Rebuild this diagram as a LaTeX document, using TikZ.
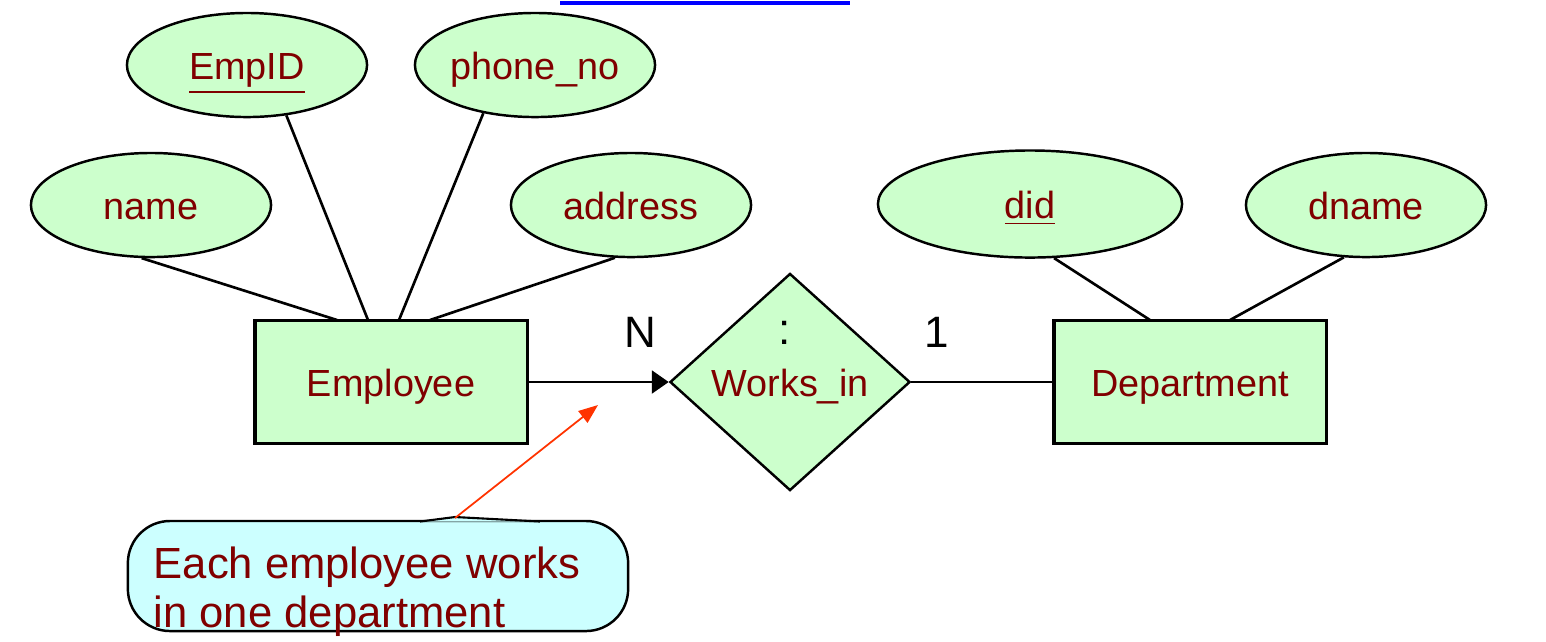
\documentclass[tikz,border=0pt]{standalone}
\usepackage{fontspec}
\setmainfont{Liberation Sans}
\usepackage{tikz}
\definecolor{attrgreen}{HTML}{CCFFCC}
\definecolor{darkred}{HTML}{800000}
\definecolor{notecyan}{HTML}{CCFFFF}
\definecolor{notered}{HTML}{FF3300}
\definecolor{linkblue}{HTML}{0000FF}
\usetikzlibrary{arrows.meta,shapes.geometric}
\tikzstyle{attrib}=[ellipse, draw=black, fill=attrgreen, line width=0.7pt, minimum width=2.4cm, minimum height=1.04cm, inner sep=0pt, text=darkred, font=\fontsize{10.75}{13}\selectfont, text height=8pt, text depth=0pt]
\tikzstyle{entity}=[rectangle, draw=black, fill=attrgreen, line width=0.9pt, minimum width=2.72cm, minimum height=1.23cm, inner sep=0pt, text=darkred, font=\fontsize{10.75}{13}\selectfont, text height=8pt, text depth=0pt]
\tikzstyle{relation}=[diamond, draw=black, fill=attrgreen, line width=0.7pt, minimum width=2.4cm, minimum height=2.17cm, inner sep=0pt, text=darkred, font=\fontsize{10.75}{13}\selectfont, text height=8pt, text depth=0pt]
\tikzstyle{cardlabel}=[inner sep=0pt, text=black, font=\fontsize{12.5}{14}\selectfont]
\tikzstyle{attrline}=[draw=black, line width=0.75pt]

\begin{document}
\begin{tikzpicture}[x=0.01cm, y=-0.01cm]
					\useasboundingbox (0,0) rectangle (1546,641);
					\path[draw=linkblue, line width=1.1pt] (560,3) -- (850,3);
					% entities and relationship
					\node[entity] (emp) at (391,382) {Employee};
					\node[entity] (dept) at (1190,382) {Department};
					\node[relation] (works) at (790,382) {Works\_in};
					\node[cardlabel] (colon) at (785,333) {:};
					% attributes
					\node[attrib] (empid) at (247,65) {\underline{EmpID}};
					\node[attrib] (phone) at (535,65) {phone\_no};
					\node[attrib] (name) at (151,205) {name};
					\node[attrib] (addr) at (631,205) {address};
					\node[attrib, minimum width=3.04cm, minimum height=1.07cm] (did) at (1030,204) {\underline{did}};
					\node[attrib] (dname) at (1366,205) {dname};
					\path[attrline] (name.260) -- (337,320);
					\path[attrline] (empid.-52) -- (368,320);
					\path[attrline] (phone.-137) -- (399,320);
					\path[attrline] (addr.-107) -- (430,320);
					\path[attrline] (did.-66) -- (1150,320);
					\path[attrline] (dname.-113) -- (1230,320);
					% links
					\path[draw=black, line width=0.75pt, -{Triangle[length=4.8pt,width=6.5pt]}] (emp) -- (works);
					\path[draw=black, line width=0.75pt] (works) -- (dept);
					\node[cardlabel] (many) at (640,332) {N};
					\node[cardlabel] (one) at (937,332) {1};
					% note
					\node[rectangle, rounded corners=12pt, draw=black, fill=notecyan, line width=0.7pt, minimum width=5cm, minimum height=1.1cm] (note) at (378,576) {};
					\path[draw=black, fill=notecyan, line width=0.6pt] (420,521.5) -- (455,517) -- (540,521.5);
					\coordinate (notetip) at (455,518);
					\coordinate (noteend) at (598,405);
					\node[anchor=north west, inner sep=0pt, align=left, text=darkred, font=\fontsize{12.4}{14}\selectfont] (notetext) at (153,546) {Each employee works\\in one department};
					\path[draw=notered, line width=0.5pt, -{Triangle[length=5.5pt,width=4.2pt]}] (notetip) -- (noteend);
				\end{tikzpicture}
\end{document}
